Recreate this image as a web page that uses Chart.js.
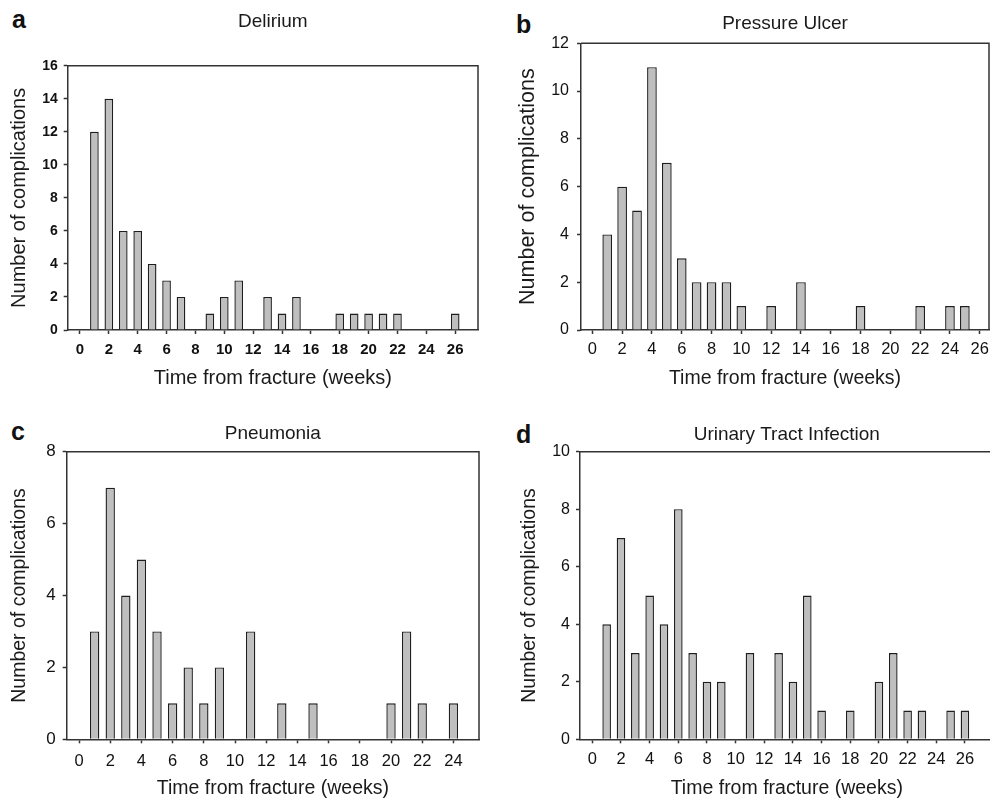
<!DOCTYPE html>
<html>
<head>
<meta charset="utf-8">
<script src="https://cdn.jsdelivr.net/npm/chart.js@4.4.1/dist/chart.umd.min.js"></script>
<style>
  html, body { margin: 0; padding: 0; background: #fff; width: 990px; height: 799px; overflow: hidden; position: relative; }
  canvas { position: absolute; }
  .tag { position: absolute; font: bold 25px "Liberation Sans", Arial, sans-serif; line-height: 25px; color: #111; }
</style>
</head>
<body>
<div class="tag" style="left:12px;top:7px">a</div>
<div class="tag" style="left:516px;top:12px">b</div>
<div class="tag" style="left:11px;top:419px">c</div>
<div class="tag" style="left:516px;top:422px">d</div>
<canvas id="delirium" width="495" height="400" style="left:0;top:0"></canvas>
<canvas id="ulcer" width="520" height="400" style="left:495px;top:0"></canvas>
<canvas id="pneumonia" width="495" height="420" style="left:0;top:400px"></canvas>
<canvas id="uti" width="520" height="420" style="left:495px;top:400px"></canvas>
<script>
// weeks after fracture and number of complications per week
const deliriumWeeks = [1, 2, 3, 4, 5, 6, 7, 9, 10, 11, 13, 14, 15, 18, 19, 20, 21, 22, 26];
const deliriumCounts = [12, 14, 6, 6, 4, 3, 2, 1, 2, 3, 2, 1, 2, 1, 1, 1, 1, 1, 1];

const ulcerWeeks = [1, 2, 3, 4, 5, 6, 7, 8, 9, 10, 12, 14, 18, 22, 24, 25];
const ulcerCounts = [4, 6, 5, 11, 7, 3, 2, 2, 2, 1, 1, 2, 1, 1, 1, 1];

const pneumoniaWeeks = [1, 2, 3, 4, 5, 6, 7, 8, 9, 11, 13, 15, 20, 21, 22, 24];
const pneumoniaCounts = [3, 7, 4, 5, 3, 1, 2, 1, 2, 3, 1, 1, 1, 3, 1, 1];

const utiWeeks = [1, 2, 3, 4, 5, 6, 7, 8, 9, 11, 13, 14, 15, 16, 18, 20, 21, 22, 23, 25, 26];
const utiCounts = [4, 7, 3, 5, 4, 8, 3, 2, 2, 3, 3, 2, 5, 1, 1, 2, 3, 1, 1, 1, 1];

// tick labels
const weekTicks26 = [0, 2, 4, 6, 8, 10, 12, 14, 16, 18, 20, 22, 24, 26];
const weekTicks24 = [0, 2, 4, 6, 8, 10, 12, 14, 16, 18, 20, 22, 24];
const deliriumYTicks = [0, 2, 4, 6, 8, 10, 12, 14, 16];
const ulcerYTicks = [0, 2, 4, 6, 8, 10, 12];
const pneumoniaYTicks = [0, 2, 4, 6, 8];
const utiYTicks = [0, 2, 4, 6, 8, 10];

const xTitle = 'Time from fracture (weeks)';
const yTitle = 'Number of complications';

Chart.defaults.font.family = '"Liberation Sans", Arial, sans-serif';
Chart.defaults.color = '#1a1a1a';

const axisColor = '#333';

// draws the top and right side of the plot frame
const frame = {
  id: 'frame',
  afterDraw(chart) {
    const a = chart.chartArea;
    const ctx = chart.ctx;
    ctx.save();
    ctx.strokeStyle = axisColor;
    ctx.lineWidth = 1.5;
    ctx.beginPath();
    ctx.moveTo(a.left, a.top);
    ctx.lineTo(a.right, a.top);
    ctx.lineTo(a.right, a.bottom);
    ctx.stroke();
    ctx.restore();
  }
};

function panel(id, p) {
  const points = p.weeks.map((w, i) => ({ x: w, y: p.counts[i] }));
  return new Chart(document.getElementById(id), {
    type: 'bar',
    data: {
      datasets: [{
        data: points,
        backgroundColor: '#bfbfbf',
        borderColor: '#1e1e1e',
        borderWidth: 1.4,
        inflateAmount: 0,
        categoryPercentage: 1,
        barPercentage: p.barPct
      }]
    },
    options: {
      responsive: false,
      animation: false,
      layout: { padding: { left: 0, top: 0, bottom: 0, right: p.padRight } },
      plugins: {
        legend: { display: false },
        tooltip: { enabled: false },
        title: {
          display: true,
          text: p.title,
          fullSize: false,
          font: { size: 19, weight: 'normal' },
          color: '#1a1a1a',
          padding: { top: p.titleTop, bottom: p.titleBottom }
        }
      },
      scales: {
        x: {
          type: 'linear',
          bounds: 'data',
          offset: false,
          min: p.xMin,
          max: p.xMax,
          afterBuildTicks: s => { s.ticks = p.xTicks.map(v => ({ value: v })); },
          afterFit: s => { s.height = p.xHeight; },
          ticks: { font: { size: p.xTickSize, weight: p.tickWeight }, padding: p.xTickPad, color: '#111' },
          grid: { offset: false, drawOnChartArea: false, drawTicks: true, tickLength: 4, color: axisColor, tickWidth: 1.5 },
          border: { color: axisColor, width: 1.5 },
          title: {
            display: true,
            text: xTitle,
            font: { size: p.xTitleSize },
            color: '#1a1a1a',
            padding: { top: 0, bottom: p.xTitlePad }
          }
        },
        y: {
          type: 'linear',
          bounds: 'data',
          min: 0,
          max: p.yTicks[p.yTicks.length - 1],
          afterBuildTicks: s => { s.ticks = p.yTicks.map(v => ({ value: v })); },
          afterFit: s => { s.width = p.yWidth; },
          ticks: { font: { size: p.yTickSize, weight: p.tickWeight }, padding: p.yTickPad, color: '#111' },
          grid: { drawOnChartArea: false, drawTicks: true, tickLength: 4, color: axisColor, tickWidth: 1.5 },
          border: { color: axisColor, width: 1.5 },
          title: {
            display: true,
            text: yTitle,
            font: { size: p.yTitleSize },
            color: '#1a1a1a',
            padding: { top: p.yTitlePad, bottom: 0 }
          }
        }
      }
    },
    plugins: [frame]
  });
}

panel('delirium', {
  title: 'Delirium', weeks: deliriumWeeks, counts: deliriumCounts,
  xTicks: weekTicks26, yTicks: deliriumYTicks, xMin: -0.85, xMax: 27.58,
  barPct: 0.6, padRight: 17, titleTop: 10.6, titleBottom: 32.3, tickWeight: 'bold',
  xHeight: 70, xTickSize: 15, xTickPad: 7, xTitleSize: 20, xTitlePad: 10,
  yWidth: 67.7, yTickSize: 14, yTickPad: 6, yTitleSize: 20, yTitlePad: 7.2
});

panel('ulcer', {
  title: 'Pressure Ulcer', weeks: ulcerWeeks, counts: ulcerCounts,
  xTicks: weekTicks26, yTicks: ulcerYTicks, xMin: -0.76, xMax: 26.62,
  barPct: 0.65, padRight: 26, titleTop: 12.6, titleBottom: 7.9, tickWeight: 'normal',
  xHeight: 70, xTickSize: 16.5, xTickPad: 5.4, xTitleSize: 19.5, xTitlePad: 9.3,
  yWidth: 86, yTickSize: 16, yTickPad: 8, yTitleSize: 21.5, yTitlePad: 20.4
});

panel('pneumonia', {
  title: 'Pneumonia', weeks: pneumoniaWeeks, counts: pneumoniaCounts,
  xTicks: weekTicks24, yTicks: pneumoniaYTicks, xMin: -0.79, xMax: 25.64,
  barPct: 0.6, padRight: 16, titleTop: 22.1, titleBottom: 6.8, tickWeight: 'normal',
  xHeight: 80.7, xTickSize: 16.5, xTickPad: 8, xTitleSize: 19.5, xTitlePad: 19.3,
  yWidth: 66.7, yTickSize: 17, yTickPad: 7, yTitleSize: 19.5, yTitlePad: 7.5
});

panel('uti', {
  title: 'Urinary Tract Infection', weeks: utiWeeks, counts: utiCounts,
  xTicks: weekTicks26, yTicks: utiYTicks, xMin: -0.86, xMax: 28,
  barPct: 0.6, padRight: 21.4, titleTop: 23.1, titleBottom: 5.8, tickWeight: 'normal',
  xHeight: 80.7, xTickSize: 16.5, xTickPad: 6.4, xTitleSize: 19.5, xTitlePad: 19.3,
  yWidth: 85, yTickSize: 16, yTickPad: 6, yTitleSize: 19.5, yTitlePad: 22.5
});
</script>
</body>
</html>
